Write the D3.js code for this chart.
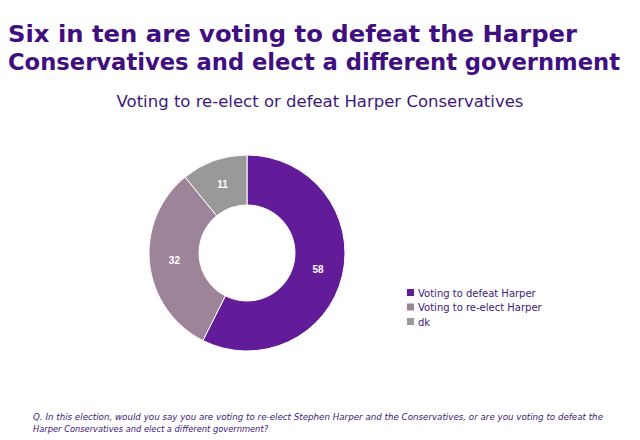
<!DOCTYPE html>
<html><head><meta charset="utf-8">
<script src="https://cdn.jsdelivr.net/npm/d3@7"></script>
<style>body{margin:0;background:#fff}</style>
</head><body>
<svg id="chart" width="640" height="440"></svg>
<script>
var categories = ["Voting to defeat Harper", "Voting to re-elect Harper", "dk"];
var values = [58, 32, 11];
var colors = ["#621c9a", "#9e8499", "#999999"];

var svg = d3.select("#chart");
var font = "Verdana, 'DejaVu Sans', sans-serif";

svg.append("text").attr("x", 8).attr("y", 42)
  .attr("font-family", font).attr("font-weight", "bold").attr("font-size", 23)
  .attr("textLength", 569).attr("lengthAdjust", "spacingAndGlyphs")
  .attr("fill", "#3f0f80").text("Six in ten are voting to defeat the Harper");
svg.append("text").attr("x", 8).attr("y", 70)
  .attr("font-family", font).attr("font-weight", "bold").attr("font-size", 23)
  .attr("textLength", 612).attr("lengthAdjust", "spacingAndGlyphs")
  .attr("fill", "#3f0f80").text("Conservatives and elect a different government");

svg.append("text").attr("x", 320).attr("y", 107).attr("text-anchor", "middle")
  .attr("font-family", font).attr("font-size", 16.5).attr("fill", "#3d1a78")
  .text("Voting to re-elect or defeat Harper Conservatives");

var cx = 247, cy = 253;
var pie = d3.pie().sort(null).value(d => d);
var arc = d3.arc().innerRadius(48).outerRadius(98);
var labelArc = d3.arc().innerRadius(73).outerRadius(73);
var g = svg.append("g").attr("transform", "translate(" + cx + "," + cy + ")");
var arcs = pie(values);
g.selectAll("path").data(arcs).enter().append("path")
  .attr("d", arc).attr("fill", (d, i) => colors[i])
  .attr("stroke", "#fff").attr("stroke-width", 1);
g.selectAll("text").data(arcs).enter().append("text")
  .attr("transform", d => "translate(" + labelArc.centroid(d) + ")")
  .attr("text-anchor", "middle").attr("dy", "0.35em")
  .attr("font-family", "Arial, 'Liberation Sans', sans-serif").attr("font-weight", "bold")
  .attr("font-size", 10).attr("fill", "#fff").text(d => d.data);

var leg = svg.append("g").attr("transform", "translate(407,288)");
categories.forEach(function (c, i) {
  var row = leg.append("g").attr("transform", "translate(0," + (i * 14.5) + ")");
  row.append("rect").attr("x", 0).attr("y", 1).attr("width", 7).attr("height", 7).attr("fill", colors[i]);
  row.append("text").attr("x", 11).attr("y", 8.5)
    .attr("font-family", font).attr("font-size", 10).attr("fill", "#3d1a78").text(c);
});

svg.append("text").attr("x", 33).attr("y", 420)
  .attr("font-family", font).attr("font-style", "italic").attr("font-size", 8.3).attr("fill", "#3d1a78")
  .attr("textLength", 570).attr("lengthAdjust", "spacingAndGlyphs")
  .text("Q. In this election, would you say you are voting to re-elect Stephen Harper and the Conservatives, or are you voting to defeat the");
svg.append("text").attr("x", 33).attr("y", 432)
  .attr("font-family", font).attr("font-style", "italic").attr("font-size", 8.3).attr("fill", "#3d1a78")
  .text("Harper Conservatives and elect a different government?");
</script>
</body></html>
